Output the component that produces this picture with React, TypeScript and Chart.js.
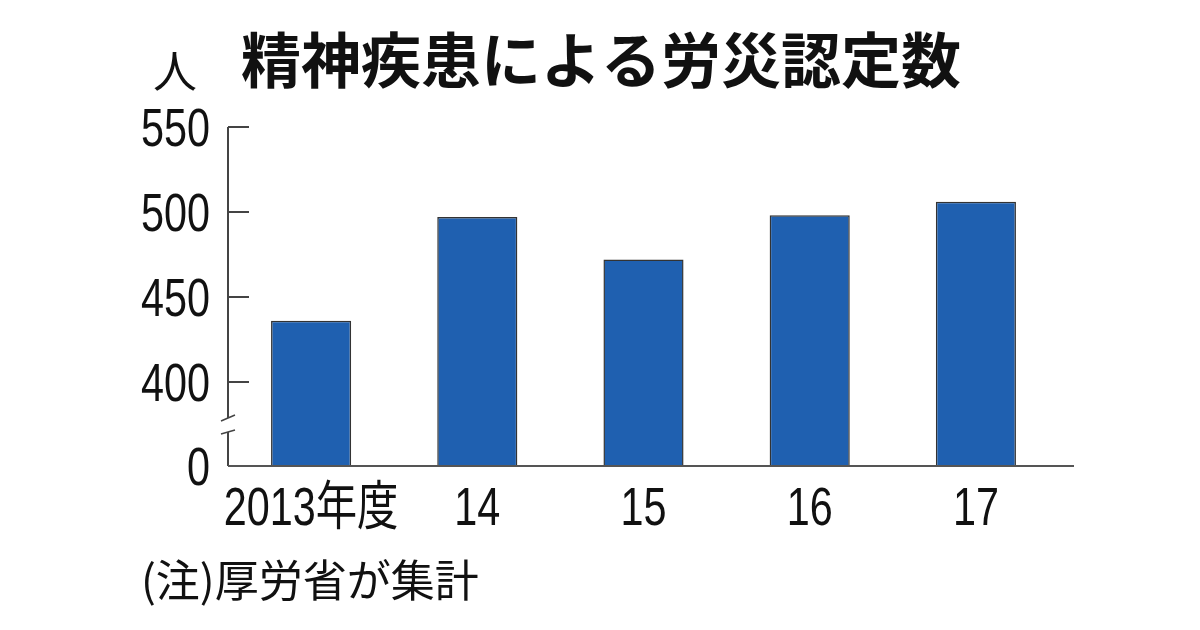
import React, { useEffect, useRef } from "react";
import { Chart, registerables } from "chart.js";

Chart.register(...registerables);

// ---- data ----
const categories = ["2013年度", "14", "15", "16", "17"];
const values = [436, 497, 472, 498, 506];
const yTickValues = [400, 450, 500, 550];
const yAxisMin = 350.5; // broken axis bottom, labelled "0"
const yAxisMax = 550;
const yBreakLabel = "0";
const titleText = "精神疾患による労災認定数";
const unitText = "人";
const noteText = "(注)厚労省が集計";

const SANS = '"Liberation Sans", "Noto Sans CJK JP", sans-serif';
const CJK = '"Noto Sans CJK JP", sans-serif';
const SQUEEZE = 0.78;

function drawNarrow(ctx: CanvasRenderingContext2D, text: string, x: number, y: number, align: "left" | "center" | "right") {
  ctx.save();
  ctx.translate(x, y);
  ctx.scale(SQUEEZE, 1);
  ctx.textAlign = align;
  ctx.textBaseline = "alphabetic";
  ctx.fillText(text, 0, 0);
  ctx.restore();
}

const decorPlugin = {
  id: "decor",
  afterDraw(chart: any) {
    const ctx = chart.ctx as CanvasRenderingContext2D;
    const { left, right, top, bottom } = chart.chartArea;
    const y = chart.scales.y;
    const x = chart.scales.x;
    ctx.save();
    ctx.fillStyle = "#111";

    // title
    ctx.font = `bold 60px ${CJK}`;
    ctx.textAlign = "center";
    ctx.textBaseline = "middle";
    ctx.fillText(titleText, 601, 60);
    // unit
    ctx.font = `44px ${CJK}`;
    ctx.fillText(unitText, 175, 71);
    // note
    ctx.textAlign = "left";
    ctx.font = `44px ${CJK}`;
    ctx.fillText(noteText, 141, 580);

    // tick labels (from the scales' own ticks)
    ctx.font = `53px ${SANS}`;
    y.ticks.forEach((t: any, i: number) => {
      const py = y.getPixelForTick(i);
      const label = t.value < yTickValues[0] ? yBreakLabel : String(t.value);
      drawNarrow(ctx, label, left - 18, py + 19, "right");
    });
    x.ticks.forEach((_t: any, i: number) => {
      const px = x.getPixelForTick(i);
      drawNarrow(ctx, categories[i], px, bottom + 59, "center");
    });

    // y axis line with break
    ctx.strokeStyle = "#444";
    ctx.lineWidth = 2;
    const breakTop = bottom - 48;
    const breakBottom = bottom - 34;
    ctx.beginPath();
    ctx.moveTo(left, top);
    ctx.lineTo(left, breakTop);
    ctx.moveTo(left, breakBottom);
    ctx.lineTo(left, bottom);
    ctx.stroke();
    // break slashes
    ctx.lineWidth = 1.5;
    ctx.beginPath();
    ctx.moveTo(left - 7, breakTop + 3);
    ctx.lineTo(left + 7, breakTop - 3);
    ctx.moveTo(left - 7, breakBottom + 2);
    ctx.lineTo(left + 7, breakBottom - 2);
    ctx.stroke();
    // ticks (inside)
    ctx.lineWidth = 2;
    ctx.beginPath();
    yTickValues.forEach((v) => {
      const py = Math.round(y.getPixelForValue(v));
      ctx.moveTo(left, py);
      ctx.lineTo(left + 21, py);
    });
    ctx.stroke();
    // baseline
    ctx.strokeStyle = "#555";
    ctx.lineWidth = 2;
    ctx.beginPath();
    ctx.moveTo(left, bottom);
    ctx.lineTo(right + 15, bottom);
    ctx.stroke();
    ctx.restore();
  },
};

export default function App() {
  const ref = useRef<HTMLCanvasElement | null>(null);
  useEffect(() => {
    if (!ref.current) return;
    const chart = new Chart(ref.current, {
      type: "bar",
      data: {
        labels: categories,
        datasets: [
          {
            data: values,
            backgroundColor: "#1f60b0",
            borderColor: "#333",
            borderWidth: 1.5,
            categoryPercentage: 1,
            barPercentage: 0.482,
          },
        ],
      },
      options: {
        animation: false,
        responsive: false,
        devicePixelRatio: 1,
        layout: { padding: { left: 128, right: 141, top: 127, bottom: 94 } },
        plugins: { legend: { display: false }, tooltip: { enabled: false }, title: { display: false } },
        scales: {
          x: {
            grid: { display: false, drawTicks: false, tickLength: 0 },
            border: { display: false },
            ticks: { display: false, autoSkip: false },
            afterFit: (s: any) => {
              s.height = 70;
            },
          },
          y: {
            min: yAxisMin,
            max: yAxisMax,
            grid: { display: false, drawTicks: false, tickLength: 0 },
            border: { display: false },
            afterBuildTicks: (s: any) => {
              s.ticks = [yAxisMin, ...yTickValues].map((v) => ({ value: v }));
            },
            ticks: { display: false },
            afterFit: (s: any) => {
              s.width = 100;
            },
          },
        },
      },
      plugins: [decorPlugin],
    });
    return () => chart.destroy();
  }, []);
  return (
    <div style={{ position: "fixed", left: 0, top: 0, width: 1200, height: 630, background: "#fff" }}>
      <canvas ref={ref} width={1200} height={630} />
    </div>
  );
}
